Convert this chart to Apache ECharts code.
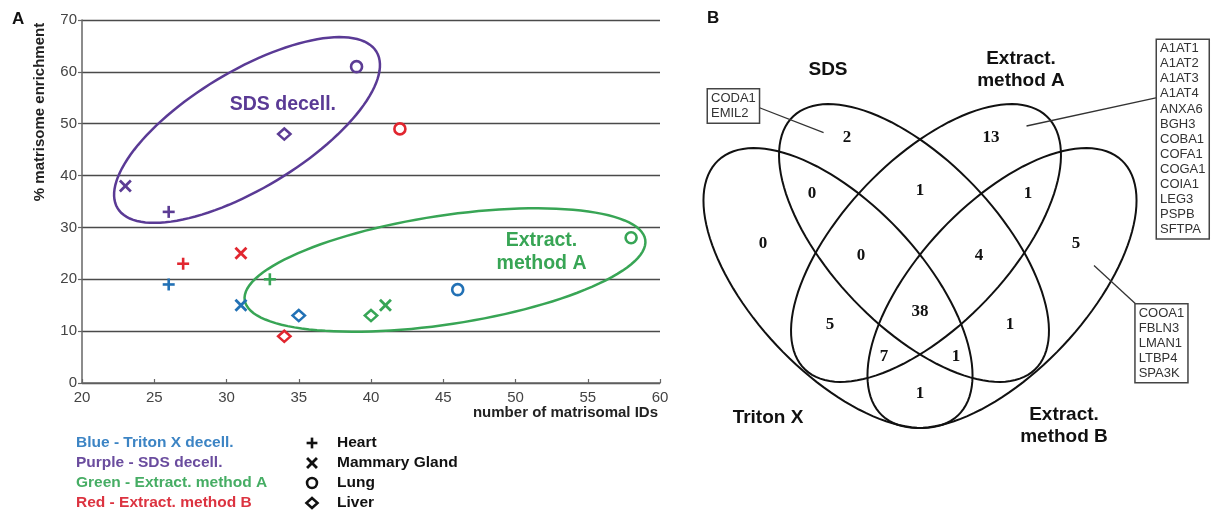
<!DOCTYPE html>
<html><head><meta charset="utf-8">
<script src="https://cdn.jsdelivr.net/npm/echarts@6/dist/echarts.min.js"></script>
<style>html,body{margin:0;padding:0;background:#fff}#c{width:1213px;height:514px}</style>
</head><body><div id="c"></div>
<script>
// ---------------- Panel A data ----------------
const tissues = ['Heart', 'Mammary Gland', 'Lung', 'Liver'];
const methods = ['Triton X decell.', 'SDS decell.', 'Extract. method A', 'Extract. method B'];
const methodLegend = ['Blue - Triton X decell.', 'Purple - SDS decell.', 'Green - Extract. method A', 'Red - Extract. method B'];
// x = number of matrisomal IDs, y = % matrisome enrichment (order: Heart, Mammary Gland, Lung, Liver)
const idsTriton = [26, 31, 46, 35];
const enrichTriton = [19, 15, 18, 13];
const idsSDS = [26, 23, 39, 34];
const enrichSDS = [33, 38, 61, 48];
const idsExtractA = [33, 41, 58, 40];
const enrichExtractA = [20, 15, 28, 13];
const idsExtractB = [27, 31, 42, 34];
const enrichExtractB = [23, 25, 49, 9];
const xTickValues = [20, 25, 30, 35, 40, 45, 50, 55, 60];
const yTickValues = [0, 10, 20, 30, 40, 50, 60, 70];
const clusterLabels = ['SDS decell.', 'Extract.\nmethod A'];

// ---------------- Panel B data ----------------
const vennSetNames = ['Triton X', 'SDS', 'Extract.\nmethod A', 'Extract.\nmethod B'];
const vennRegionKeys = ['T', 'S', 'A', 'B', 'TS', 'SA', 'AB', 'TSA', 'SAB', 'TSAB', 'TA', 'SB', 'TAB', 'TSB', 'TB'];
const vennCounts = [0, 2, 13, 5, 0, 1, 1, 0, 4, 38, 5, 1, 7, 1, 1];
const onlySDSProteins = ['CODA1', 'EMIL2'];
const onlyExtractAProteins = ['A1AT1', 'A1AT2', 'A1AT3', 'A1AT4', 'ANXA6', 'BGH3', 'COBA1', 'COFA1', 'COGA1', 'COIA1', 'LEG3', 'PSPB', 'SFTPA'];
const onlyExtractBProteins = ['COOA1', 'FBLN3', 'LMAN1', 'LTBP4', 'SPA3K'];

// ---------------- layout / style (not data) ----------------
const FONT = 'Liberation Sans, Arial, Helvetica, sans-serif';
const SERIF = 'Liberation Serif, Times New Roman, serif';
const methodColors = ['#2271b5', '#5c3c94', '#37a556', '#e1262f'];
const legendColors = ['#3c84c4', '#6a4c9e', '#46ad64', '#dc3340'];
const methodIds = [idsTriton, idsSDS, idsExtractA, idsExtractB];
const methodEnrich = [enrichTriton, enrichSDS, enrichExtractA, enrichExtractB];

// marker glyph drawing (pixel-space shape around a data point)
function markerShape(kind, x, y, color, s) {
  const k = s || 1;
  if (kind === 0) { // plus
    const h = 6 * k;
    return { type: 'group', children: [
      { type: 'line', shape: { x1: x - h, y1: y, x2: x + h, y2: y }, style: { stroke: color, lineWidth: 2.6 } },
      { type: 'line', shape: { x1: x, y1: y - h, x2: x, y2: y + h }, style: { stroke: color, lineWidth: 2.6 } }
    ] };
  }
  if (kind === 1) { // cross
    const h = 5.5 * k;
    return { type: 'group', children: [
      { type: 'line', shape: { x1: x - h, y1: y - h, x2: x + h, y2: y + h }, style: { stroke: color, lineWidth: 2.8 } },
      { type: 'line', shape: { x1: x - h, y1: y + h, x2: x + h, y2: y - h }, style: { stroke: color, lineWidth: 2.8 } }
    ] };
  }
  if (kind === 2) { // open circle
    return { type: 'circle', shape: { cx: x, cy: y, r: 5.5 * k }, style: { fill: '#fff', stroke: color, lineWidth: 2.6 } };
  }
  // open diamond
  const w = 6.2 * k, hh = 5.6 * k;
  return { type: 'polygon', shape: { points: [[x, y - hh], [x + w, y], [x, y + hh], [x - w, y]] },
           style: { fill: '#fff', stroke: color, lineWidth: 2.5 } };
}

// cluster ellipses in data space: center + two conjugate semi-axis vectors
const clusterEllipses = [
  { c: [31.42, 48.79], u: [8.96, 15.08], v: [-2.09, 9.66], color: '#5a3a95', label: [33.9, 53.6] },
  { c: [45.12, 21.79], u: [13.86, 5.84], v: [-0.563, 10.37], color: '#38a555', label: [51.8, 25.2] }
];

// Venn geometry in a 1:1 pixel-scaled helper space (origin = diagram centre, y up)
const vennEllipses = [
  { c: [-82, 12], a: 175, b: 84, ang: -46.8 },
  { c: [-6, 57], a: 175, b: 83, ang: -46.3 },
  { c: [6, 57], a: 175, b: 83, ang: 46.3 },
  { c: [82, 12], a: 175, b: 84, ang: 46.8 }
];
const vennRegionPos = {
  T: [-157, 56], S: [-73, 162], A: [71, 162], B: [156, 56],
  TS: [-108, 106], SA: [0, 109], AB: [108, 106],
  TSA: [-59, 44], SAB: [59, 44], TSAB: [0, -12],
  TA: [-90, -25], SB: [90, -25], TAB: [-36, -57], TSB: [36, -57], TB: [0, -94]
};
const vennSetPos = [[-152, -118], [-92, 230], [101, 230], [144, -126]];
const callouts = [
  { items: onlySDSProteins, box: [-212, 210.5], line: [[-162.4, 193], [-96.4, 167.4]], lh: 15.5 },
  { items: onlyExtractAProteins, box: [237, 260], line: [[237, 202.3], [106.5, 174]], lh: 15.1 },
  { items: onlyExtractBProteins, box: [215.7, -4.4], line: [[174, 34.5], [215.5, -3.7]], lh: 15.1 }
];

function ellipsePts(api, cx, cy, ux, uy, vx, vy) {
  const pts = [];
  const n = 120;
  for (let i = 0; i < n; i++) {
    const t = i / n * Math.PI * 2;
    pts.push(api.coord([cx + ux * Math.cos(t) + vx * Math.sin(t), cy + uy * Math.cos(t) + vy * Math.sin(t)]));
  }
  return pts;
}

const pointSeries = methods.map((m, mi) => ({
  type: 'custom', name: m, xAxisIndex: 0, yAxisIndex: 0, z: 5,
  data: tissues.map((t, ti) => ({ name: t, value: [methodIds[mi][ti], methodEnrich[mi][ti]] })),
  renderItem: (params, api) => {
    const p = api.coord([api.value(0), api.value(1)]);
    return markerShape(params.dataIndex, p[0], p[1], methodColors[mi]);
  }
}));

const clusterSeries = {
  type: 'custom', xAxisIndex: 0, yAxisIndex: 0, z: 4, silent: true,
  data: clusterEllipses.map(e => e.c),
  renderItem: (params, api) => {
    const e = clusterEllipses[params.dataIndex];
    const lp = api.coord(e.label);
    return {
      type: 'group',
      children: [
        { type: 'polygon', shape: { points: ellipsePts(api, e.c[0], e.c[1], e.u[0], e.u[1], e.v[0], e.v[1]) },
          style: { fill: 'none', stroke: e.color, lineWidth: 2.5 } },
        { type: 'text', x: lp[0], y: lp[1],
          style: { text: clusterLabels[params.dataIndex], fill: e.color, fontSize: 19.5, fontWeight: 'bold', fontFamily: FONT,
                   align: 'center', verticalAlign: 'middle', lineHeight: 23 } }
      ]
    };
  }
};

const vennEllipseSeries = {
  type: 'custom', xAxisIndex: 1, yAxisIndex: 1, z: 3, silent: true,
  data: vennEllipses.map(e => e.c),
  renderItem: (params, api) => {
    const e = vennEllipses[params.dataIndex];
    const r = e.ang * Math.PI / 180;
    return { type: 'polygon',
      shape: { points: ellipsePts(api, e.c[0], e.c[1], e.a * Math.cos(r), e.a * Math.sin(r), -e.b * Math.sin(r), e.b * Math.cos(r)) },
      style: { fill: 'none', stroke: '#111', lineWidth: 2 } };
  }
};

const vennCountSeries = {
  type: 'custom', xAxisIndex: 1, yAxisIndex: 1, z: 6, silent: true,
  data: vennRegionKeys.map((k, i) => [vennRegionPos[k][0], vennRegionPos[k][1], vennCounts[i]]),
  renderItem: (params, api) => {
    const p = api.coord([api.value(0), api.value(1)]);
    return { type: 'text', x: p[0], y: p[1],
      style: { text: String(api.value(2)), fill: '#111', fontSize: 17, fontWeight: 'bold', fontFamily: SERIF,
               align: 'center', verticalAlign: 'middle' } };
  }
};

const vennSetSeries = {
  type: 'custom', xAxisIndex: 1, yAxisIndex: 1, z: 6, silent: true,
  data: vennSetPos,
  renderItem: (params, api) => {
    const p = api.coord([api.value(0), api.value(1)]);
    return { type: 'text', x: p[0], y: p[1],
      style: { text: vennSetNames[params.dataIndex], fill: '#111', fontSize: 19, fontWeight: 'bold', fontFamily: FONT,
               align: 'center', verticalAlign: 'middle', lineHeight: 22 } };
  }
};

const calloutSeries = {
  type: 'custom', xAxisIndex: 1, yAxisIndex: 1, z: 7, silent: true,
  data: callouts.map(c => c.box),
  renderItem: (params, api) => {
    const c = callouts[params.dataIndex];
    const b = api.coord(c.box);
    const l0 = api.coord(c.line[0]);
    const l1 = api.coord(c.line[1]);
    return { type: 'group', children: [
      { type: 'line', shape: { x1: l0[0], y1: l0[1], x2: l1[0], y2: l1[1] }, style: { stroke: '#333', lineWidth: 1.3 } },
      { type: 'text', x: b[0], y: b[1],
        style: { text: c.items.join('\n'), fill: '#333', fontSize: 13, fontFamily: FONT, lineHeight: c.lh,
                 align: 'left', verticalAlign: 'top', backgroundColor: '#fff', borderColor: '#444', borderWidth: 1.5,
                 padding: [1, 3, 1, 3] } }
    ] };
  }
};

// graphic elements: panel letters, axis titles, legends
const graphics = [
  { type: 'text', x: 12, y: 19, style: { text: 'A', fontSize: 17, fontWeight: 'bold', fontFamily: FONT, fill: '#111', align: 'left', verticalAlign: 'middle' } },
  { type: 'text', x: 707, y: 18, style: { text: 'B', fontSize: 17, fontWeight: 'bold', fontFamily: FONT, fill: '#111', align: 'left', verticalAlign: 'middle' } },
  { type: 'text', x: 40, y: 112, rotation: Math.PI / 2,
    style: { text: '% matrisome enrichment', fontSize: 15, fontWeight: 'bold', fontFamily: FONT, fill: '#222', align: 'center', verticalAlign: 'middle' } },
  { type: 'text', x: 658, y: 413,
    style: { text: 'number of matrisomal IDs', fontSize: 15, fontWeight: 'bold', fontFamily: FONT, fill: '#222', align: 'right', verticalAlign: 'middle' } }
];
methodLegend.forEach((t, i) => {
  graphics.push({ type: 'text', x: 76, y: 443 + 20 * i,
    style: { text: t, fontSize: 15.5, fontWeight: 'bold', fontFamily: FONT, fill: legendColors[i], align: 'left', verticalAlign: 'middle' } });
});
tissues.forEach((t, i) => {
  const cy = 443 + 20 * i;
  graphics.push({ type: 'text', x: 337, y: cy,
    style: { text: t, fontSize: 15.5, fontWeight: 'bold', fontFamily: FONT, fill: '#111', align: 'left', verticalAlign: 'middle' } });
  graphics.push(markerShape(i, 312, cy, '#111', 0.9));
});

const option = {
  animation: false,
  backgroundColor: '#fff',
  grid: [
    { left: 82, top: 20, width: 578, height: 363, outerBoundsMode: 'none', containLabel: false },
    { left: 680, top: 0, width: 533, height: 514, outerBoundsMode: 'none', containLabel: false }
  ],
  xAxis: [
    { gridIndex: 0, type: 'value', min: xTickValues[0], max: xTickValues[xTickValues.length - 1], interval: 5,
      axisLine: { show: true, lineStyle: { color: '#666', width: 1.5 } },
      axisTick: { show: true, inside: true, length: 4, lineStyle: { color: '#666', width: 1.2 } },
      axisLabel: { show: true, color: '#444', fontSize: 15, fontFamily: FONT, margin: 7, showMinLabel: true, showMaxLabel: true },
      splitLine: { show: false } },
    { gridIndex: 1, type: 'value', min: -240, max: 293, show: false, splitLine: { show: false } }
  ],
  yAxis: [
    { gridIndex: 0, type: 'value', min: yTickValues[0], max: yTickValues[yTickValues.length - 1], interval: 10,
      axisLine: { show: true, lineStyle: { color: '#666', width: 1.5 } },
      axisTick: { show: true, length: 4, lineStyle: { color: '#666', width: 1.2 } },
      axisLabel: { show: true, color: '#444', fontSize: 15, fontFamily: FONT, margin: 5, showMinLabel: true, showMaxLabel: true },
      splitLine: { show: true, lineStyle: { color: '#4a4a4a', width: 1.4 } } },
    { gridIndex: 1, type: 'value', min: -214, max: 300, show: false, splitLine: { show: false } }
  ],
  graphic: graphics,
  series: [clusterSeries].concat(pointSeries, [vennEllipseSeries, vennCountSeries, vennSetSeries, calloutSeries])
};

const chart = echarts.init(document.getElementById('c'), null, { renderer: 'canvas', width: 1213, height: 514 });
chart.setOption(option);
</script>
</body></html>
